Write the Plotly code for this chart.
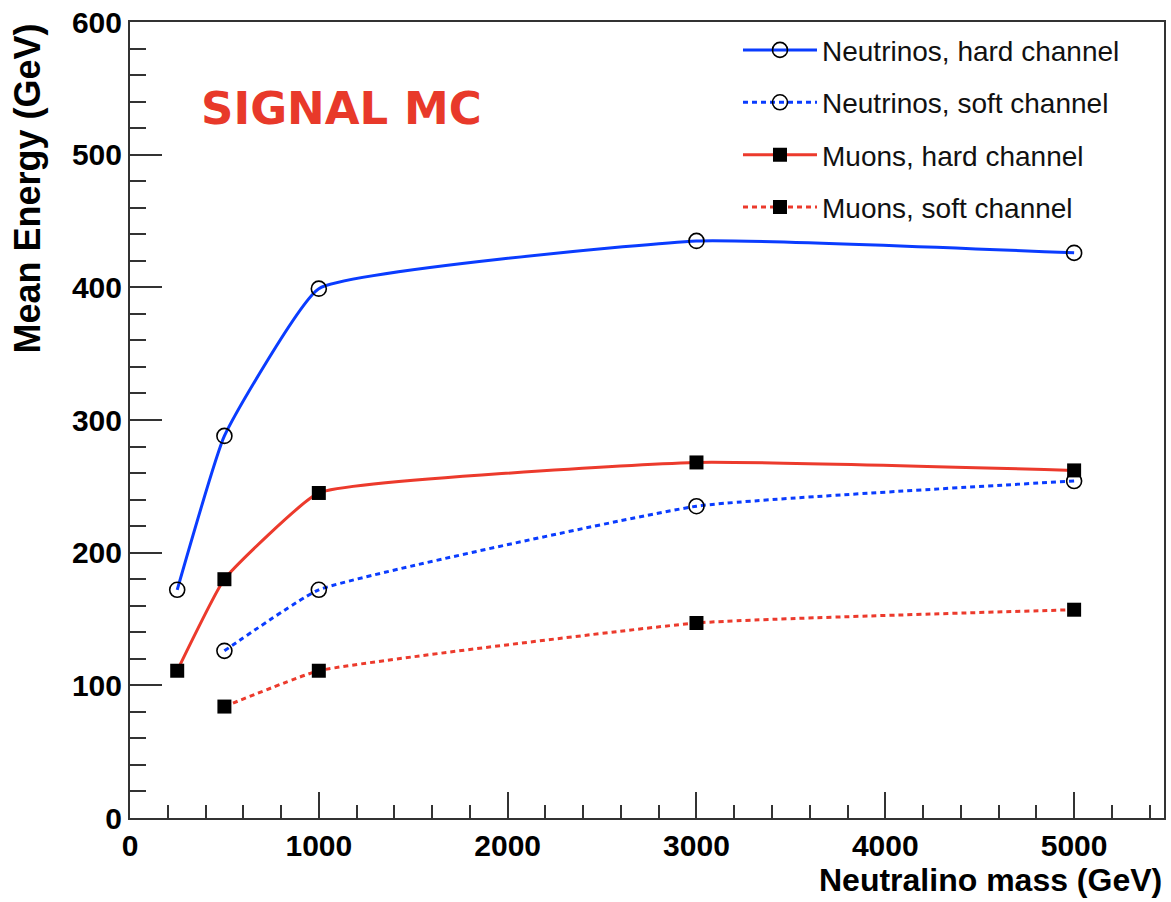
import plotly.graph_objects as go

# Data
mass_hard = [250, 500, 1000, 3000, 5000]
mass_soft = [500, 1000, 3000, 5000]
nu_hard = [172, 288, 399, 435, 426]
nu_soft = [126, 172, 235, 254]
mu_hard = [111, 180, 245, 268, 262]
mu_soft = [84, 111, 147, 157]

series_names = ["Neutrinos, hard channel", "Neutrinos, soft channel",
                "Muons, hard channel", "Muons, soft channel"]

BLUE = "#0a3cff"
RED = "#ec3a2c"
SMOOTH = 0.35

fig = go.Figure()

circle = dict(symbol="circle-open", size=15, color="black", line=dict(width=1.6, color="black"))
square = dict(symbol="square", size=14, color="black", line=dict(width=0))

fig.add_trace(go.Scatter(x=mass_hard, y=nu_hard, mode="lines+markers", name=series_names[0],
                         legendgroup="a",
                         line=dict(color=BLUE, width=3, shape="spline", smoothing=SMOOTH),
                         marker=circle))
fig.add_trace(go.Scatter(x=mass_soft, y=nu_soft, mode="lines+markers", name=series_names[1],
                         legendgroup="b",
                         line=dict(color=BLUE, width=3, dash="5px,4px", shape="spline", smoothing=SMOOTH),
                         marker=circle))
fig.add_trace(go.Scatter(x=mass_hard, y=mu_hard, mode="lines+markers", name=series_names[2],
                         legendgroup="c",
                         line=dict(color=RED, width=3, shape="spline", smoothing=SMOOTH),
                         marker=square))
fig.add_trace(go.Scatter(x=mass_soft, y=mu_soft, mode="lines+markers", name=series_names[3],
                         legendgroup="d",
                         line=dict(color=RED, width=3, dash="5px,4px", shape="spline", smoothing=SMOOTH),
                         marker=square))

axis_common = dict(
    showgrid=False, zeroline=False,
    showline=True, linecolor="#333333", linewidth=2, mirror=True,
    ticks="inside", tickcolor="#333333", tickwidth=2,
    tickfont=dict(family="Liberation Sans", size=30, color="black", weight="bold"),
)

fig.update_xaxes(
    range=[0, 5476], tickmode="linear", tick0=0, dtick=1000, ticklen=26,
    minor=dict(dtick=200, ticklen=13, ticks="inside", tickcolor="#333333", tickwidth=2, showgrid=False),
    **axis_common,
)
fig.update_yaxes(
    range=[0, 600], tickmode="linear", tick0=0, dtick=100, ticklen=32,
    minor=dict(dtick=20, ticklen=16, ticks="inside", tickcolor="#333333", tickwidth=2, showgrid=False),
    **axis_common,
)

# Axis titles (ROOT-style: aligned to the axis end)
fig.add_annotation(text="<b>Neutralino mass (GeV)</b>", xref="paper", yref="paper",
                   x=1.0, y=-0.078, xanchor="right", yanchor="middle", showarrow=False,
                   font=dict(family="Liberation Sans", size=32, color="black"))
fig.add_annotation(text="<b>Mean Energy (GeV)</b>", xref="paper", yref="paper",
                   x=-0.1, y=1.0, xanchor="center", yanchor="top", textangle=-90, showarrow=False,
                   font=dict(family="Liberation Sans", size=36, color="black"))

fig.add_annotation(text="<b>SIGNAL MC</b>", xref="paper", yref="paper", x=0.205, y=0.891,
                   xanchor="center", yanchor="middle", showarrow=False,
                   font=dict(family="DejaVu Sans", size=45, color="#e8392a"))

fig.update_layout(
    width=1171, height=902,
    margin=dict(l=130, r=5, t=21, b=84),
    paper_bgcolor="white", plot_bgcolor="white",
    showlegend=True,
    legend=dict(x=0.588, y=0.996, xanchor="left", yanchor="top",
                font=dict(family="Liberation Sans", size=28, color="#111111"),
                bgcolor="rgba(255,255,255,0)", borderwidth=0,
                tracegroupgap=13, itemwidth=74),
)

fig.write_html("out.html")
